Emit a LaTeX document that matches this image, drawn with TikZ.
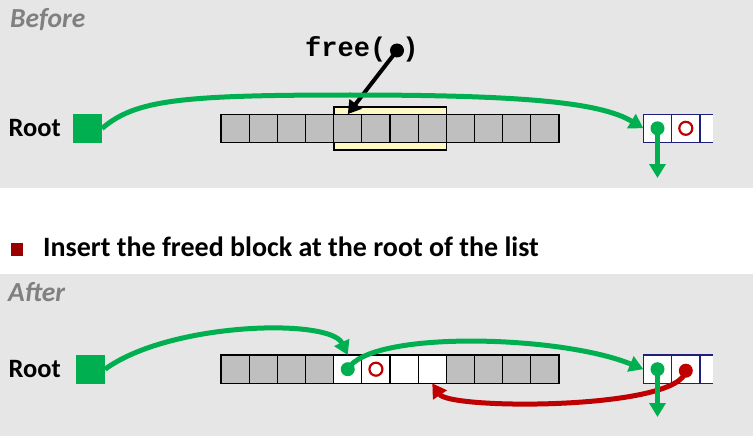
\documentclass[tikz,border=0pt]{standalone}
\usepackage{fontspec}
\setmainfont{Carlito}
\newfontfamily\codefont{Liberation Mono}
\usetikzlibrary{arrows.meta,positioning}
\definecolor{panelc}{HTML}{E6E6E6}
\definecolor{greenc}{HTML}{00B050}
\definecolor{redc}{HTML}{C00000}
\definecolor{cellc}{HTML}{BFBFBF}
\definecolor{hlc}{HTML}{FDF8C4}
\definecolor{navyc}{HTML}{1F1F7A}
\definecolor{bulc}{HTML}{990000}
\tikzset{
  cell/.style={draw=black,line width=1.2pt,fill=cellc,minimum width=28.17pt,minimum height=28.3pt,inner sep=0pt,outer sep=0pt},
  fcell/.style={cell,fill=white},
  lcell/.style={draw=navyc,line width=1.2pt,fill=white,minimum width=28.3pt,minimum height=28.3pt,inner sep=0pt,outer sep=0pt},
  rootsq/.style={fill=greenc,minimum size=29pt,inner sep=0pt,outer sep=0pt},
  gdot/.style={circle,fill=greenc,minimum size=14pt,inner sep=0pt},
  rdot/.style={circle,fill=redc,minimum size=14pt,inner sep=0pt},
  rring/.style={circle,draw=redc,line width=2.2pt,minimum size=13pt,inner sep=0pt},
  garr/.style={-{Triangle[length=14pt,width=16pt]},line width=5pt,greenc},
  rarr/.style={-{Triangle[length=14pt,width=16pt]},line width=5pt,redc},
  lbl/.style={font=\fontsize{26.5}{30}\selectfont\bfseries,inner sep=0pt},
  ttl/.style={font=\fontsize{27.5}{30}\selectfont\bfseries\itshape,text=black!50,inner sep=0pt}
}
\begin{document}
\begin{tikzpicture}[x=1pt,y=-1pt]
\useasboundingbox (0,0) rectangle (753,436);
\fill[white] (0,0) rectangle (753,436);
\fill[panelc] (0,0) rectangle (753,188);
\fill[panelc] (0,274) rectangle (753,436);
% before
\node[ttl,anchor=base west] (before) at (10,28) {Before};
\node[rootsq] (rootA) at (87.5,128.5) {};
\node[lbl,left=12pt of rootA] (rootlblA) {Root};
\node[draw=black,line width=1.2pt,fill=hlc,minimum width=112.7pt,minimum height=43pt,inner sep=0pt] (hlA) at (390.3,128.5) {};
\foreach \i in {0,...,11}{\node[cell] (a\i) at ({235.08+28.17*\i},128.3) {};}
\node[lcell] (r0) at (657.5,128.3) {};
\node[lcell] (r1) at (685.8,128.3) {};
\node[fill=white,minimum width=13pt,minimum height=28.3pt,inner sep=0pt,outer sep=0pt,anchor=west] (r2) at (r1.east) {};
\draw[navyc,line width=1.2pt] (r2.north east) -- (r2.north west) -- (r2.south west) -- (r2.south east);
\node[gdot] (gdA) at (r0.center) {};
\node[rring] (rrA) at (r1.center) {};
\coordinate (gdAend) at (657.5,178);
\node[font=\fontsize{27}{30}\selectfont\codefont\bfseries,anchor=base west,inner sep=0pt] (freecall) at (305,56.5) {free(\hphantom{x})};
\node[circle,fill=black,minimum size=14pt,inner sep=0pt] (fp) at (397,50.5) {};
\draw[-{Triangle[length=13pt,width=15pt]},line width=4pt] (fp.center) -- (a4.north);
\draw[garr] (rootA.east) .. controls (135,100) and (180,95) .. (350,95) .. controls (520,95) and (600,102) .. (r0.west);
\draw[garr] (gdA.center) -- (gdAend);
% bullet
\node[fill=bulc,minimum width=12pt,minimum height=13pt,inner sep=0pt] (bul) at (17,249) {};
\node[font=\fontsize{28}{32}\selectfont\bfseries,anchor=base west,inner sep=0pt] (bultxt) at (43,256) {Insert the freed block at the root of the list};
% after
\node[ttl,anchor=base west] (after) at (8,301) {After};
\node[rootsq] (rootB) at (90.5,369.2) {};
\node[lbl,left=15pt of rootB] (rootlblB) {Root};
\foreach \i in {0,...,11}{
  \ifnum\i<4 \node[cell] (b\i) at ({235.08+28.17*\i},369.2) {};
  \else\ifnum\i<8 \node[fcell] (b\i) at ({235.08+28.17*\i},369.2) {};
  \else \node[cell] (b\i) at ({235.08+28.17*\i},369.2) {};
  \fi\fi}
\node[lcell] (s0) at (657.5,369.2) {};
\node[lcell] (s1) at (685.8,369.2) {};
\node[fill=white,minimum width=13pt,minimum height=28.3pt,inner sep=0pt,outer sep=0pt,anchor=west] (s2) at (s1.east) {};
\draw[navyc,line width=1.2pt] (s2.north east) -- (s2.north west) -- (s2.south west) -- (s2.south east);
\node[gdot] (gdB) at (b4.center) {};
\node[rring] (rrB) at (b5.center) {};
\node[gdot] (gdC) at (s0.center) {};
\node[rdot] (rdC) at ([yshift=-1.5pt]s1.center) {};
\coordinate (gdCend) at (657.5,417);
\draw[garr] (rootB.east) .. controls (170,322) and (330,318) .. (b4.north);
\draw[garr] (gdB.center) .. controls (370,330) and (560,335) .. (s0.west);
\draw[rarr] (rdC.center) .. controls (680,410) and (450,410) .. (b7.south);
\draw[garr] (gdC.center) -- (gdCend);
\end{tikzpicture}
\end{document}
